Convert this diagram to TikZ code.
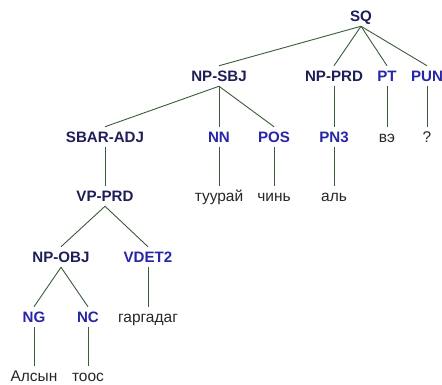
\documentclass[tikz,border=0pt]{standalone}
\usepackage{fontspec}
\setmainfont{Liberation Sans}
\definecolor{phr}{HTML}{1E1E58}
\definecolor{tagc}{HTML}{2626A6}
\definecolor{wordc}{HTML}{262626}
\definecolor{edgec}{HTML}{3A5A3A}
\begin{document}
\begin{tikzpicture}[x=1pt,y=-1pt,
  base/.style={inner sep=0pt,outer ysep=5pt,text height=10.5pt,text depth=0pt},
  phrase/.style={base,text=phr,font=\fontsize{15.1}{17}\selectfont\bfseries},
  tag/.style={base,text=tagc,font=\fontsize{15.1}{17}\selectfont\bfseries},
  word/.style={base,text=wordc,font=\fontsize{15.5}{17}\selectfont},
  edge/.style={draw=edgec,line width=0.9pt}]
\useasboundingbox (0,0) rectangle (442,385);
\node[phrase] (sq) at (361,16) {SQ};
\node[phrase] (npsbj) at (219,76) {NP-SBJ};
\node[phrase] (npprd) at (334,76) {NP-PRD};
\node[tag] (pt) at (387,76) {PT};
\node[tag] (pun) at (427,76) {PUN};
\node[phrase] (sbar) at (105,137) {SBAR-ADJ};
\node[tag] (nn) at (219,137) {NN};
\node[tag] (pos) at (274,137) {POS};
\node[tag] (pn3) at (334,137) {PN3};
\node[word] (ve) at (387,137) {вэ};
\node[word] (q) at (427,137) {?};
\node[phrase] (vpprd) at (105,196) {VP-PRD};
\node[word] (tuuraj) at (219,196) {туурай};
\node[word] (chin) at (274,196) {чинь};
\node[word] (al) at (334,196) {аль};
\node[phrase] (npobj) at (61,257) {NP-OBJ};
\node[tag] (vdet) at (148,257) {VDET2};
\node[tag] (ng) at (34,317) {NG};
\node[tag] (nc) at (88,317) {NC};
\node[word] (garg) at (148,317) {гаргадаг};
\node[word] (alsyn) at (34,376) {Алсын};
\node[word] (toos) at (88,376) {тоос};
\foreach \p/\c in {sq/npsbj,sq/npprd,sq/pt,sq/pun,npsbj/sbar,npsbj/nn,npsbj/pos,
  npprd/pn3,pt/ve,pun/q,sbar/vpprd,nn/tuuraj,pos/chin,pn3/al,vpprd/npobj,vpprd/vdet,
  npobj/ng,npobj/nc,vdet/garg,ng/alsyn,nc/toos}
  \draw[edge] (\p.south) -- (\c.north);
\end{tikzpicture}
\end{document}
